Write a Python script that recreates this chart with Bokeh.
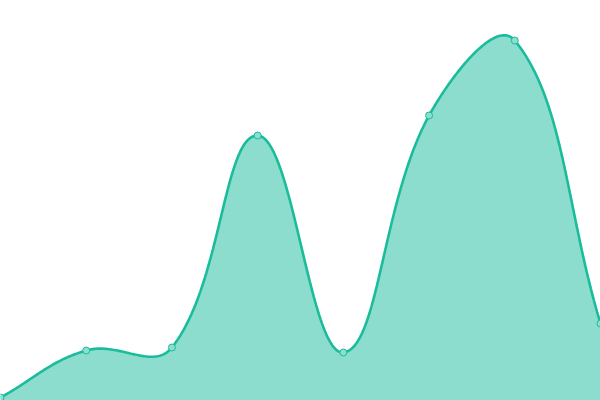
import numpy as np
from bokeh.plotting import figure
from bokeh.models import Range1d, GlobalInlineStyleSheet
from bokeh.embed import file_html
from bokeh.resources import INLINE

# Data (index positions and values)
categories = [0, 1, 2, 3, 4, 5, 6, 7]
values = [3, 50, 53, 265, 48, 285, 360, 77]

W, H = 600, 400
X_MAX = 7
Y_MAX = 400
TENSION = 0.4

LINE = "#1abc9c"
FILL = "#8cdece"


def spline_curve(xs, ys, t):
    """Chart.js-style spline control points computed in pixel space."""
    sx = W / X_MAX
    sy = H / Y_MAX
    px = np.array(xs, float) * sx
    py = np.array(ys, float) * sy
    n = len(px)
    c_prev, c_next = [], []
    for i in range(n):
        p0 = (px[max(i - 1, 0)], py[max(i - 1, 0)])
        p1 = (px[i], py[i])
        p2 = (px[min(i + 1, n - 1)], py[min(i + 1, n - 1)])
        d01 = np.hypot(p1[0] - p0[0], p1[1] - p0[1])
        d12 = np.hypot(p2[0] - p1[0], p2[1] - p1[1])
        tot = d01 + d12
        s01 = d01 / tot if tot else 0
        s12 = d12 / tot if tot else 0
        fa = t * s01
        fb = t * s12
        cp = (p1[0] - fa * (p2[0] - p0[0]), p1[1] - fa * (p2[1] - p0[1]))
        cn = (p1[0] + fb * (p2[0] - p0[0]), p1[1] + fb * (p2[1] - p0[1]))
        clamp = lambda c: (min(max(c[0], 0), W), min(max(c[1], 0), H))
        c_prev.append(clamp(cp))
        c_next.append(clamp(cn))
    # sample bezier segments
    out_x, out_y = [], []
    ts = np.linspace(0, 1, 60)
    for i in range(n - 1):
        P0 = np.array([px[i], py[i]])
        P1 = np.array(c_next[i])
        P2 = np.array(c_prev[i + 1])
        P3 = np.array([px[i + 1], py[i + 1]])
        seg = ((1 - ts) ** 3)[:, None] * P0 + (3 * (1 - ts) ** 2 * ts)[:, None] * P1 \
            + (3 * (1 - ts) * ts ** 2)[:, None] * P2 + (ts ** 3)[:, None] * P3
        if i > 0:
            seg = seg[1:]
        out_x.extend(seg[:, 0] / sx)
        out_y.extend(seg[:, 1] / sy)
    return out_x, out_y


cx, cy = spline_curve(categories, values, TENSION)

p = figure(width=W, height=H, output_backend="svg", toolbar_location=None,
           x_range=Range1d(0, X_MAX), y_range=Range1d(0, Y_MAX),
           min_border=0, min_border_left=0, min_border_right=0,
           min_border_top=0, min_border_bottom=0)
p.xaxis.visible = False
p.yaxis.visible = False
p.grid.visible = False
p.outline_line_color = None
p.background_fill_color = "white"
p.border_fill_color = "white"

px_patch = [cx[0]] + list(cx) + [cx[-1]]
py_patch = [0] + list(cy) + [0]
p.patch(px_patch, py_patch, fill_color=LINE, fill_alpha=0.5, line_color=None)
p.line(cx, cy, line_color=LINE, line_width=2.6)
p.scatter(categories, values, size=7, fill_color=FILL, line_color=LINE, line_width=1)

p.stylesheets = [GlobalInlineStyleSheet(css="html, body { margin: 0; padding: 0; overflow: hidden; }")]

open("out.html", "w").write(file_html(p, INLINE))
